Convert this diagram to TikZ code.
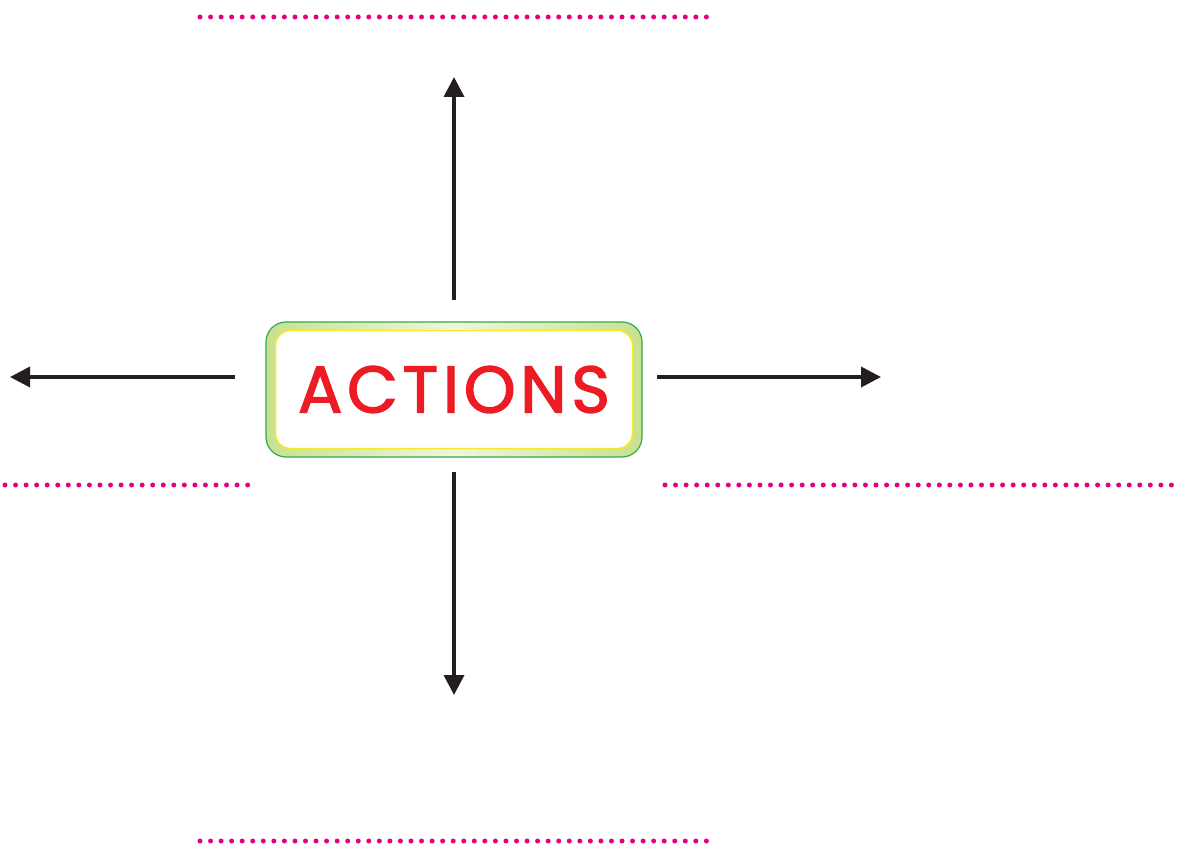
\documentclass[tikz,border=0pt]{standalone}
\usepackage{fontspec}
\setmainfont{Poppins}
\newfontfamily\titlefont{Poppins}[LetterSpace=7, FakeBold=2]
\usetikzlibrary{arrows.meta}
\definecolor{dotpink}{HTML}{E6007E}
\definecolor{framegreen}{HTML}{2DAE4A}
\definecolor{leafgreen}{HTML}{C9E08F}
\definecolor{palegreen}{HTML}{EEF6DE}
\definecolor{rimyellow}{HTML}{F4EC2A}
\definecolor{titlered}{HTML}{ED1C24}
\definecolor{arrowgray}{HTML}{231F20}
\tikzset{
  writeline/.style={dotpink, line width=5pt, line cap=round, dash pattern=on 0pt off 10.55pt},
  ray/.style={arrowgray, line width=3.6pt, -{Triangle[width=20pt,length=20pt]}},
  outerframe/.style={draw=framegreen, line width=1.2pt, rounded corners=20pt,
    left color=leafgreen, right color=leafgreen, middle color=palegreen,
    minimum width=376pt, minimum height=135pt},
  innerframe/.style={draw=rimyellow, fill=white, line width=1.5pt, rounded corners=15pt,
    minimum width=357pt, minimum height=118pt},
}
\begin{document}
\begin{tikzpicture}[x=1pt, y=-1pt]
  \useasboundingbox (0,0) rectangle (1182,858);

  % central box
  \node[outerframe] (frame) at (454,389.5) {};
  \node[innerframe, font=\titlefont\fontsize{66}{66}\selectfont\color{titlered}] (title) at (454,389.5) {ACTIONS};

  % end points of the four rays
  \coordinate (upS) at (454,300);   \coordinate (upE) at (454,77);
  \coordinate (dnS) at (454,472);   \coordinate (dnE) at (454,695);
  \coordinate (ltS) at (235,377);   \coordinate (ltE) at (10,377);
  \coordinate (rtS) at (657,377);   \coordinate (rtE) at (881,377);

  \draw[ray] (upS) -- (upE);
  \draw[ray] (dnS) -- (dnE);
  \draw[ray] (ltS) -- (ltE);
  \draw[ray] (rtS) -- (rtE);

  % dotted writing lines
  \coordinate (tA) at (200,17);  \coordinate (tB) at (709,17);
  \coordinate (lA) at (5,485);   \coordinate (lB) at (251,485);
  \coordinate (rA) at (665,485); \coordinate (rB) at (1175,485);
  \coordinate (bA) at (200,841); \coordinate (bB) at (709,841);

  \draw[writeline] (tA) -- (tB);
  \draw[writeline] (lA) -- (lB);
  \draw[writeline] (rA) -- (rB);
  \draw[writeline] (bA) -- (bB);
\end{tikzpicture}
\end{document}
